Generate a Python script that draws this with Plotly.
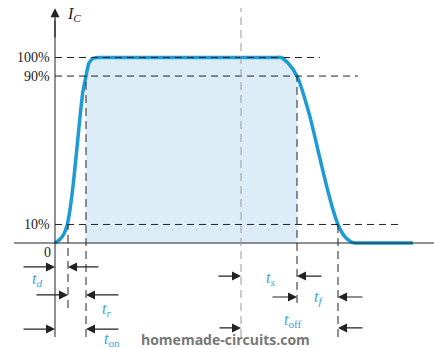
import numpy as np
import plotly.graph_objects as go

# Collector current during a switching cycle (time in arbitrary units, current in % of full scale)
t = [0, 0.5, 0.9, 1.23, 1.5, 1.83, 2.17, 2.5, 2.8, 3.1, 3.4, 3.8, 4.3, 5.0,
     21.9, 22.6, 23.3, 24.2, 25.5, 26.3, 27.1, 27.8, 28.3, 28.9, 29.5, 30.0, 30.8, 35.8]
ic = [0, 2, 5, 10, 18, 32, 50, 68, 82, 90, 97, 99.5, 100, 100,
      100, 100, 97, 90, 68, 50, 32, 18, 10, 4, 1, 0, 0, 0]

# Switching instants
t_start = 0.0      # base drive applied
t_d_end = 1.3      # current reaches 10%
t_on_end = 3.1     # current reaches 90%
t_off_start = 18.6 # base drive removed
t_s_end = 24.2     # current falls to 90%
t_f_end = 28.3     # current falls to 10%

# Reference levels and their labels
levels = [100, 90, 10]
level_labels = ["100%", "90%", "10%"]
level_ends = [26.5, 30.3, 34.7]

BLUE = "#1d9bd7"
FILL = "#dcedf8"
INK = "#222222"
LABEL_BLUE = "#3ba3dc"
SERIF = "Liberation Serif"

fig = go.Figure()

ta = np.array(t)
ia = np.array(ic)
mask = (ta >= t_on_end) & (ta <= t_s_end)
fig.add_trace(go.Scatter(
    x=ta[mask], y=ia[mask], mode="lines", fill="tozeroy", fillcolor=FILL,
    line=dict(width=0, shape="spline", smoothing=0.6), hoverinfo="skip"))

shapes = []
# time axis
shapes.append(dict(type="line", x0=-4.1, x1=37.9, y0=0, y1=0,
                   line=dict(color=INK, width=1)))
# current axis
shapes.append(dict(type="line", x0=0, x1=0, y0=-50.7, y1=120,
                   line=dict(color=INK, width=1)))
# horizontal reference levels
for lv, xe in zip(levels, level_ends):
    shapes.append(dict(type="line", x0=0, x1=xe, y0=lv, y1=lv,
                       line=dict(color=INK, width=1, dash="7px,5px")))
# vertical markers
verticals = [(t_d_end, 10, -35.0, INK), (t_on_end, 90, -50.7, INK),
             (t_off_start, 126.7, -50.7, "#9a9a9a"),
             (t_s_end, 90, -32.3, INK), (t_f_end, 10, -50.7, INK)]
for xv, ytop, ybot, col in verticals:
    shapes.append(dict(type="line", x0=xv, x1=xv, y0=ybot, y1=ytop,
                       line=dict(color=col, width=1, dash="8px,5px")))

fig.add_trace(go.Scatter(
    x=t, y=ic, mode="lines",
    line=dict(color=BLUE, width=3.5, shape="spline", smoothing=0.6),
    hoverinfo="skip"))

annotations = []
# arrow on the current axis
annotations.append(dict(x=0, y=126.5, ax=0, ay=110, xref="x", yref="y",
                        axref="x", ayref="y", text="", showarrow=True,
                        arrowhead=2, arrowsize=1.5, arrowwidth=1.2,
                        arrowcolor=INK))
annotations.append(dict(x=1.0, y=123, xref="x", yref="y", xanchor="left",
                        text="<i>I</i><sub><i>C</i></sub>", showarrow=False,
                        font=dict(family=SERIF, size=16, color=INK)))
for lv, lab in zip(levels, level_labels):
    annotations.append(dict(x=-0.3, y=lv, xref="x", yref="y", xanchor="right",
                            text=lab, showarrow=False,
                            font=dict(family=SERIF, size=14, color=INK)))
annotations.append(dict(x=-0.8, y=-5.2, xref="x", yref="y", text="0",
                        showarrow=False, font=dict(family=SERIF, size=14, color=INK)))

# interval arrows: (head, tail, level)
arrows = [
    (t_start, -3.3, -12.9), (t_d_end, 4.5, -12.9),
    (t_d_end, -2.0, -28.0), (t_on_end, 6.5, -28.0),
    (t_start, -3.3, -46.4), (t_on_end, 6.5, -46.4),
    (t_off_start, 16.2, -17.8), (t_s_end, 26.8, -17.8),
    (t_s_end, 21.6, -29.1), (t_f_end, 30.9, -29.1),
    (t_off_start, 16.3, -45.8), (t_f_end, 30.9, -45.8),
]
for head, tail, lv in arrows:
    annotations.append(dict(x=head, y=lv, ax=tail, ay=lv, xref="x", yref="y",
                            axref="x", ayref="y", text="", showarrow=True,
                            arrowhead=2, arrowsize=1.5, arrowwidth=1.2,
                            arrowcolor=INK))

# interval names
names = [("<i>t<sub>d</sub></i>", -1.8, -19.9),
         ("<i>t<sub>r</sub></i>", 5.1, -36.0),
         ("<i>t</i><sub>on</sub>", 5.7, -51.8),
         ("<i>t<sub>s</sub></i>", 21.5, -18.9),
         ("<i>t<sub>f</sub></i>", 26.3, -29.6),
         ("<i>t</i><sub>off</sub>", 23.8, -42.0)]
for txt, xv, yv in names:
    annotations.append(dict(x=xv, y=yv, xref="x", yref="y", text=txt,
                            showarrow=False, borderpad=0,
                            font=dict(family=SERIF, size=16, color=LABEL_BLUE)))

annotations.append(dict(x=17.0, y=-52.0, xref="x", yref="y", borderpad=0,
                        text="<b>homemade-circuits.com</b>", showarrow=False,
                        font=dict(family="Open Sans", size=14, color="#777777")))

fig.update_layout(
    width=434, height=348, margin=dict(l=0, r=0, t=0, b=0),
    paper_bgcolor="white", plot_bgcolor="white", showlegend=False,
    xaxis=dict(range=[-5.5, 37.9], visible=False, fixedrange=True),
    yaxis=dict(range=[-56.6, 131], visible=False, fixedrange=True),
    shapes=shapes, annotations=annotations,
)

fig.write_html("out.html")
